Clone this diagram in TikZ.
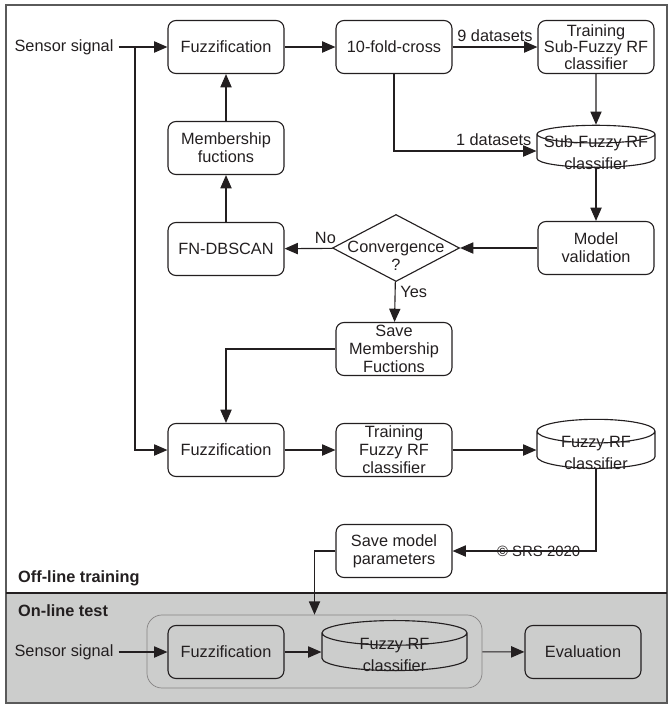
\documentclass[tikz,border=0pt]{standalone}
\usepackage{fontspec}
\setmainfont{Liberation Sans}
\usetikzlibrary{arrows.meta,shapes.geometric}
\definecolor{ink}{HTML}{231F20}
\definecolor{band}{HTML}{CCCDCC}
\definecolor{frame}{HTML}{5A5A5A}
\newcommand{\boxfont}{\fontsize{11.6}{12.8}\selectfont}

\begin{document}
\begin{tikzpicture}[x=0.025cm,y=-0.025cm,font=\boxfont,color=ink,line width=0.8pt,
  >={Triangle[length=3.3mm,width=2.8mm]},
  stage/.style={draw,rounded corners=0.2cm,minimum width=2.9cm,minimum height=1.325cm,align=center,inner sep=0pt},
  store/.style={draw,cylinder,shape border rotate=90,aspect=0.15,text width=2.95cm,minimum height=1.05cm,inner sep=0pt},
  store text/.style={align=center,font=\fontsize{11.6}{15.6}\selectfont},
  decision/.style={draw,diamond,minimum width=3.175cm,minimum height=1.675cm,inner sep=0pt},
  part/.style={anchor=west,font=\fontsize{11.6}{12.8}\selectfont\bfseries}]
\useasboundingbox (0,0) rectangle (669,704);
\fill[band] (6,593) rectangle (667,703);
\draw[frame,line width=1.4pt] (6,5) rectangle (667,703);
\draw (6,593) -- (667,593);

\node (sensor) at (64,47) {Sensor signal};
\node[stage] (fuzz) at (226,47) {Fuzzification};
\node[stage] (cross) at (394,47) {10-fold-cross};
\node[stage,font=\fontsize{11.6}{10.3}\selectfont] (train) at (596,47) {Training\\Sub-Fuzzy RF\\classifier};
\node[stage] (member) at (226,148) {Membership\\fuctions};
\node[store,label={[store text,yshift=-0.03cm]center:Sub-Fuzzy RF\\classifier}] (sub) at (596,151) {};
\node[stage] (dbscan) at (226,249) {FN-DBSCAN};
\node[decision,label={[yshift=-0.2cm,align=center]center:Convergence\\?}] (conv) at (396,248) {};
\node[stage] (valid) at (596,248) {Model\\validation};
\node[stage] (savemf) at (394,349) {Save\\Membership\\Fuctions};
\node[stage] (fuzz-2) at (226,450) {Fuzzification};
\node[stage] (train-2) at (394,450) {Training\\Fuzzy RF\\classifier};
\node[store,aspect=0.2,minimum height=1.225cm,label={[store text,yshift=-0.08cm]center:Fuzzy RF\\classifier}] (rf) at (596,450) {};
\node[stage] (savemp) at (394,551) {Save model\\parameters};
\node[part] (offline) at (13,578) {Off-line training};

\node[part] (online-label) at (13,611) {On-line test};
\node[draw=ink!55,line width=0.5pt,rounded corners=0.375cm,minimum width=8.375cm,minimum height=1.825cm] (online) at (314.5,651.5) {};
\node (sensor-3) at (64,652) {Sensor signal};
\node[stage] (fuzz-3) at (226,652) {Fuzzification};
\node[store,aspect=0.17,text width=3.625cm,minimum height=1.25cm,label={[store text,yshift=-0.07cm]center:Fuzzy RF\\classifier}] (rf-3) at (394.5,652) {};
\node[stage] (eval) at (583,652) {Evaluation};

\coordinate (split) at (135,47);
\draw[->] (sensor) -- (fuzz);
\draw[->] (split) |- (fuzz-2);
\draw[->] (fuzz) -- (cross);
\path[->] (cross) edge node[above] {9 datasets} (train);
\draw[->] (cross) |- node[pos=0.85,above] {1 datasets} (sub);
\draw[->] (train) -- (sub);
\draw[->] (sub) -- (valid);
\draw[->] (valid) -- (conv);
\draw[->] (conv) -- node[pos=0.15,above] {No} (dbscan);
\draw[->] (dbscan) -- (member);
\draw[->] (member) -- (fuzz);
\draw[->] (conv) -- node[pos=0.25,right] {Yes} (savemf);
\draw[->] (savemf) -| (fuzz-2);
\draw[->] (fuzz-2) -- (train-2);
\draw[->] (train-2) -- (rf);
\draw[->] (rf) |- node[pos=0.7,font=\fontsize{10.6}{12}\selectfont] {\textcopyright{} SRS 2020} (savemp);
\draw[->] (savemp) -| (online);
\draw[->] (sensor-3) -- (fuzz-3);
\draw[->] (fuzz-3) -- (rf-3);
\draw[->] (online) -- (eval);
\end{tikzpicture}
\end{document}
